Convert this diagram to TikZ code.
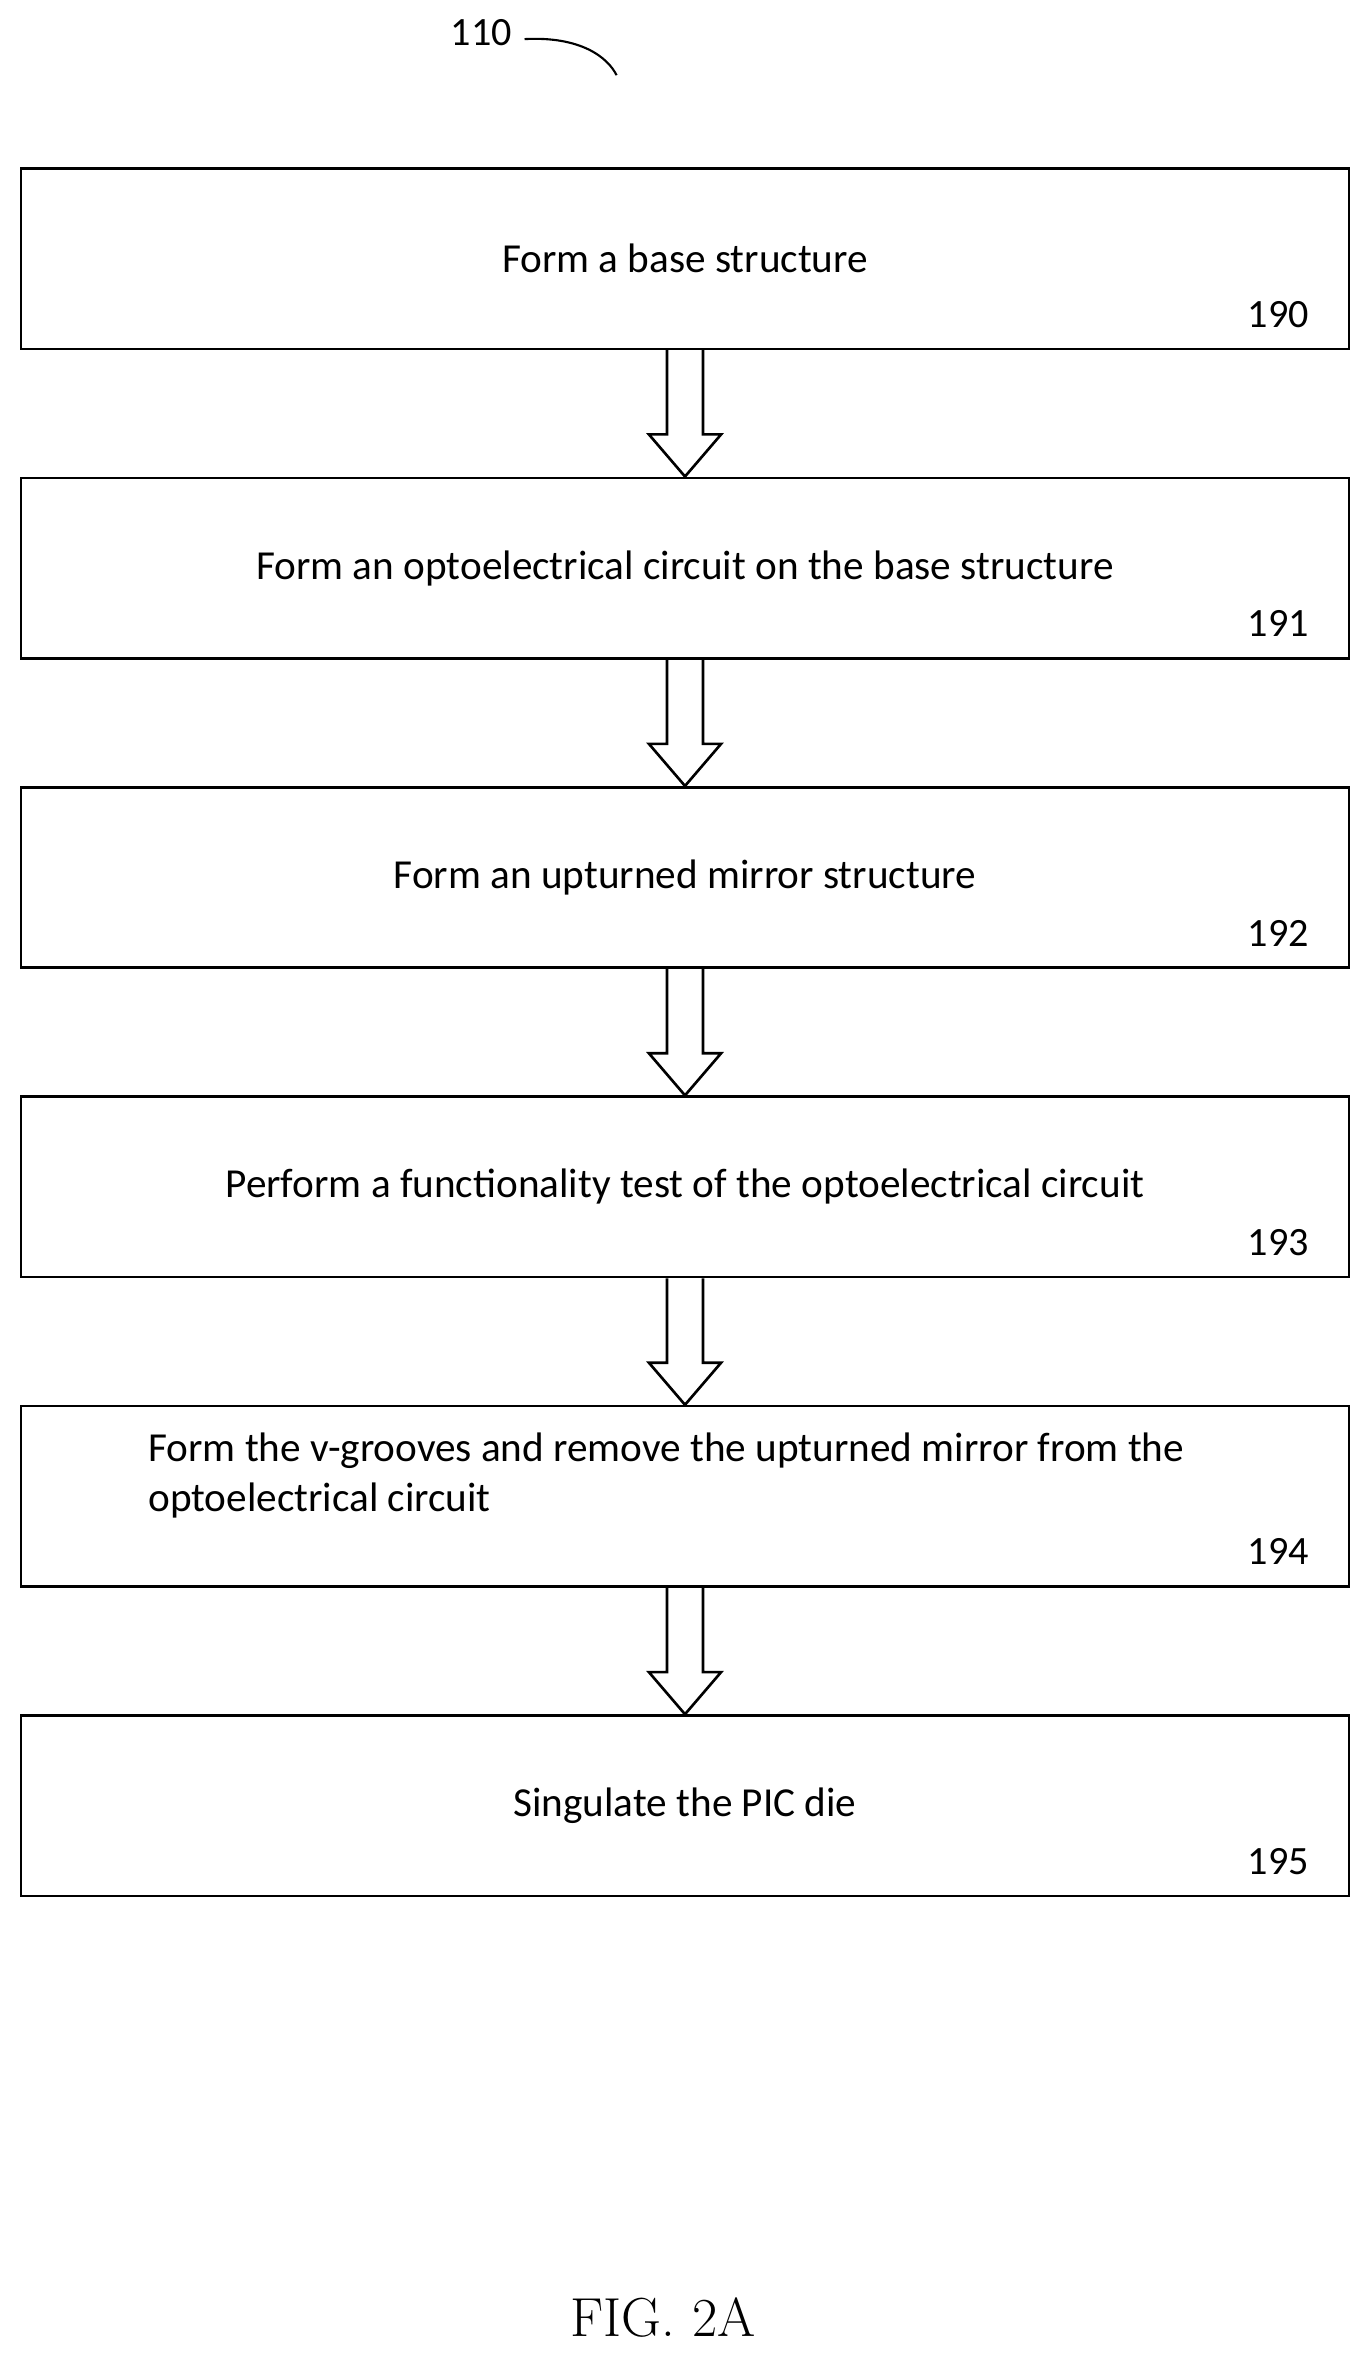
\documentclass[tikz,border=0pt]{standalone}
\usepackage{fontspec}
\setmainfont{Carlito}
\newfontfamily\figfont{Latin Modern Roman}
\usetikzlibrary{positioning, calc}
\tikzset{
    procbox/.style={draw, line width=2.5pt, minimum width=44.15cm, minimum height=6cm,
        inner sep=0pt, font=\fontsize{39}{47}\selectfont},
    num/.style={font=\fontsize{38}{46}\selectfont, anchor=east},
    flow/.style={draw, line width=2.5pt, line join=miter}
}
\begin{document}
\begin{tikzpicture}
    \useasboundingbox (0,0) rectangle (45.45,-78.4);
    % Steps
    \node[procbox] (s190) at (22.775,-8.6) {Form a base structure};
    \node[procbox, below=4.2cm of s190] (s191) {Form an optoelectrical circuit on the base structure};
    \node[procbox, below=4.2cm of s191] (s192) {Form an upturned mirror structure};
    \node[procbox, below=4.2cm of s192] (s193) {Perform a functionality test of the optoelectrical circuit};
    \node[procbox, below=4.2cm of s193] (s194) {};
    \node[font=\fontsize{39}{47}\selectfont, align=left, anchor=west]
        (t194) at ($(s194.west)+(4.15,0.7)$) {Form the v-grooves and remove the upturned mirror from the\\optoelectrical circuit};
    \node[procbox, below=4.2cm of s194] (s195) {Singulate the PIC die};
    % Numbers and hollow arrows
    \foreach \n in {190,...,195}
        \node[num] (n\n) at ($(s\n.south east)+(-1.25,1.2)$) {\n};
    \foreach \a/\b in {190/191,191/192,192/193,193/194,194/195}
        \draw[flow] ($(s\a.south)+(-0.6,0)$) -- ($(s\b.north)+(-0.6,1.4)$)
            -- ($(s\b.north)+(-1.2,1.4)$) -- (s\b.north) -- ($(s\b.north)+(1.2,1.4)$)
            -- ($(s\b.north)+(0.6,1.4)$) -- ($(s\a.south)+(0.6,0)$);
    % Reference label
    \node[font=\fontsize{38}{46}\selectfont] (ref) at (16,-1.1) {110};
    \draw[line width=2pt] ($(ref.east)+(0.3,-0.2)$) .. controls (19.3,-1.2) and (20.2,-1.9) .. (20.5,-2.5);
    % Figure title
    \node[font=\figfont\fontsize{52}{62}\selectfont] (fig) at (22.05,-77.05) {FIG. 2A};
\end{tikzpicture}
\end{document}
